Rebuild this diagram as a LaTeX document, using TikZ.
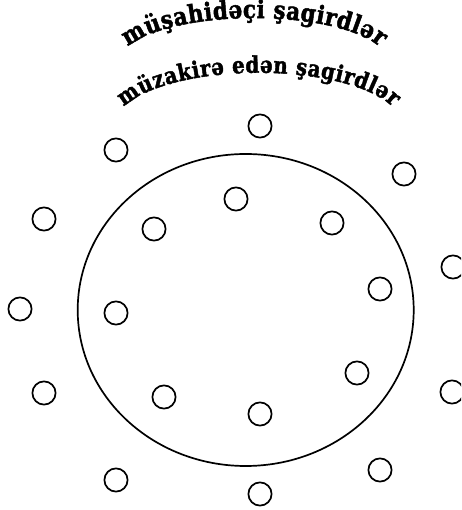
\documentclass[tikz,border=0pt]{standalone}
\usepackage{fontspec}
\newfontfamily\arcfont{DejaVu Serif}[UprightFont=* Bold, FakeBold=1.8, FakeStretch=0.86]
\usetikzlibrary{decorations.text,shapes.geometric}
\begin{document}
\begin{tikzpicture}[x=1pt,y=1pt,
  seat/.style={draw, line width=1.7pt, circle, minimum size=23.2pt, inner sep=0pt},
  table/.style={draw, line width=1.7pt, ellipse, minimum width=336pt, minimum height=312pt, inner sep=0pt},
  archtext/.style={decorate, decoration={text along path, text align={fit to path}, text={#1}}}]
\useasboundingbox (0,0) rectangle (461,510);
\clip (0,0) rectangle (461,510);
% curved titles
\path[archtext={|\arcfont\fontsize{25}{30}\selectfont|müşahidəçi şagirdlər}]
  (128,463) arc[start angle=160, end angle=20, x radius=134, y radius=44];
\path[archtext={|\arcfont\fontsize{23}{28}\selectfont|müzakirə edən şagirdlər}]
  (124,403) arc[start angle=160, end angle=20, x radius=143, y radius=52];
% big circle
\node[table] (ring) at (245.7,200) {};
% inner seats
\node[seat] (i1) at (236,311) {};
\node[seat] (i2) at (332,287) {};
\node[seat] (i3) at (154,281) {};
\node[seat] (i4) at (380,221) {};
\node[seat] (i5) at (116,197) {};
\node[seat] (i6) at (357,137) {};
\node[seat] (i7) at (164,113) {};
\node[seat] (i8) at (260,96) {};
% outer seats
\node[seat] (o1) at (260,384) {};
\node[seat] (o2) at (116,360) {};
\node[seat] (o3) at (404,336) {};
\node[seat] (o4) at (44,291) {};
\node[seat] (o5) at (453,243) {};
\node[seat] (o6) at (20,201) {};
\node[seat] (o7) at (44,117) {};
\node[seat] (o8) at (452,118) {};
\node[seat] (o9) at (380,40) {};
\node[seat] (o10) at (116,30) {};
\node[seat] (o11) at (260,16) {};
\end{tikzpicture}
\end{document}
